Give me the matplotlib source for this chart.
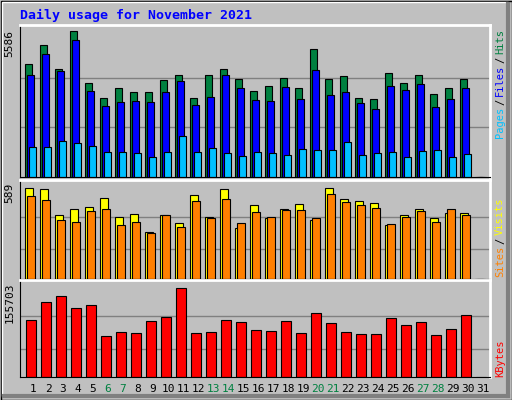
import matplotlib
matplotlib.use("Agg")
import matplotlib.pyplot as plt
from matplotlib.patches import Rectangle

days = list(range(1, 32))
hits = [4309, 5068, 4119, 5586, 3588, 3020, 3399, 3247, 3247, 3703, 3892, 3020, 3892, 4119, 3740, 3286, 3475, 3778, 3399, 4916, 3740, 3854, 3020, 2981, 3968, 3588, 3892, 3172, 3399, 3740, 0]
files = [3892, 4689, 4043, 5245, 3286, 2717, 2869, 2906, 2869, 3247, 3664, 2755, 3058, 3892, 3399, 2944, 2906, 3437, 2981, 4105, 3134, 3247, 2830, 2603, 3475, 3323, 3551, 2679, 2982, 3399, 0]
pages = [1150, 1150, 1377, 1302, 1188, 961, 961, 923, 771, 961, 1567, 961, 1112, 923, 809, 961, 923, 847, 1074, 1036, 1036, 1340, 847, 923, 961, 771, 998, 1036, 771, 885, 0]
sites = [589, 583, 416, 455, 467, 525, 403, 423, 301, 416, 365, 544, 403, 583, 333, 480, 397, 455, 487, 384, 589, 519, 506, 493, 352, 416, 455, 397, 429, 429, 0]
visits = [538, 512, 384, 371, 442, 455, 352, 371, 295, 416, 339, 506, 397, 519, 365, 436, 403, 448, 448, 397, 551, 499, 480, 461, 359, 403, 442, 371, 455, 416, 0]
kbytes = [99941, 130740, 141006, 120474, 125607, 70856, 79411, 77700, 98230, 105074, 155703, 76556, 79411, 99941, 96519, 82833, 81122, 98230, 77700, 111919, 94808, 79411, 75989, 75989, 102793, 90815, 96519, 74278, 84544, 108496, 0]
weekend = [6, 7, 13, 14, 20, 21, 27, 28]

W, H = 512, 400
fig = plt.figure(figsize=(W/100, H/100), dpi=100)
fig.patch.set_facecolor("#C0C0C0")
bg = fig.add_axes([0, 0, 1, 1]); bg.set_axis_off()
bg.set_xlim(0, W); bg.set_ylim(H, 0)
bg.add_patch(Rectangle((0.5, 0.5), W-1, H-1, fill=False, ec="black", lw=1))
bg.add_patch(Rectangle((2, 2), W-6, H-6, fill=False, ec="white", lw=1))
bg.plot([W-4, W-4], [4, H-4], color="#808080", lw=3)
bg.plot([4, W-4], [H-4, H-4], color="#808080", lw=3)
bg.text(20, 15, "Daily usage for November 2021", color="#0000FF", fontsize=9.5,
        fontweight="bold", family="DejaVu Sans Mono", va="center", ha="left")

def panel(y0, y1):
    ax = fig.add_axes([20/W, 1-y1/H, 470/W, (y1-y0)/H])
    ax.set_facecolor("#C0C0C0")
    ax.set_xlim(0, 470/15)
    for s in ax.spines.values():
        s.set_color("black")
    ax.spines["top"].set_color("white"); ax.spines["right"].set_color("white")
    ax.spines["top"].set_linewidth(2); ax.spines["right"].set_linewidth(2)
    ax.set_xticks([]); ax.set_yticks([])
    return ax

def lbl(ax, top):
    ax.text(-0.012, 0.97, top, transform=ax.transAxes, rotation=90, ha="right", va="top",
            fontsize=8, family="DejaVu Sans Mono")

ek = dict(edgecolor="black", linewidth=0.8, align="edge")
x = [d - 1 for d in days]

ax1 = panel(25, 177)
ax1.set_ylim(0, 5586 * 152 / 146)
for y in [5586*0.68, 5586*0.34]:
    ax1.axhline(y, color="#808080", lw=1, zorder=0)
ax1.bar([v + 0.33 for v in x], hits, 0.45, color="#008040", **ek)
ax1.bar([v + 0.47 for v in x], files, 0.45, color="#0000FF", **ek)
ax1.bar([v + 0.60 for v in x], pages, 0.45, color="#00C0FF", **ek)
lbl(ax1, "5586")

ax2 = panel(180, 279)
ax2.set_ylim(0, 589 * 99 / 91)
for y in [589*(189/276), 589*(90/276)]:
    ax2.axhline(y, color="#808080", lw=1, zorder=0)
ax2.bar([v + 0.33 for v in x], sites, 0.55, color="#FFFF00", **ek)
ax2.bar([v + 0.47 for v in x], visits, 0.55, color="#FF8000", **ek)
lbl(ax2, "589")

ax3 = panel(280, 377)
ax3.set_ylim(0, 155703 * 97 / 89)
for y in [155703*(186/273), 155703*(87/273)]:
    ax3.axhline(y, color="#808080", lw=1, zorder=0)
ax3.bar([v + 0.4 for v in x], kbytes, 0.67, color="#FF0000", **ek)
lbl(ax3, "155703")

for d in days:
    bg.text(20 + 15*(d-1) + 13, 389, str(d), ha="center", va="center", fontsize=8,
            family="DejaVu Sans Mono", color="#008040" if d in weekend else "black")

def side(y, parts):
    yy = y
    for txt, col in parts:
        bg.text(500, yy, txt, rotation=90, ha="center", va="bottom", color=col,
                fontsize=7.5, family="DejaVu Sans Mono")
        yy -= len(txt) * 6 + 3
side(138, [("Pages", "#00C0FF"), ("/", "black"), ("Files", "#0000FF"), ("/", "black"), ("Hits", "#008040")])
side(277, [("Sites", "#FF8000"), ("/", "black"), ("Visits", "#FFFF00")])
side(377, [("KBytes", "#FF0000")])

fig.savefig("out.png", dpi=100, facecolor=fig.get_facecolor())
